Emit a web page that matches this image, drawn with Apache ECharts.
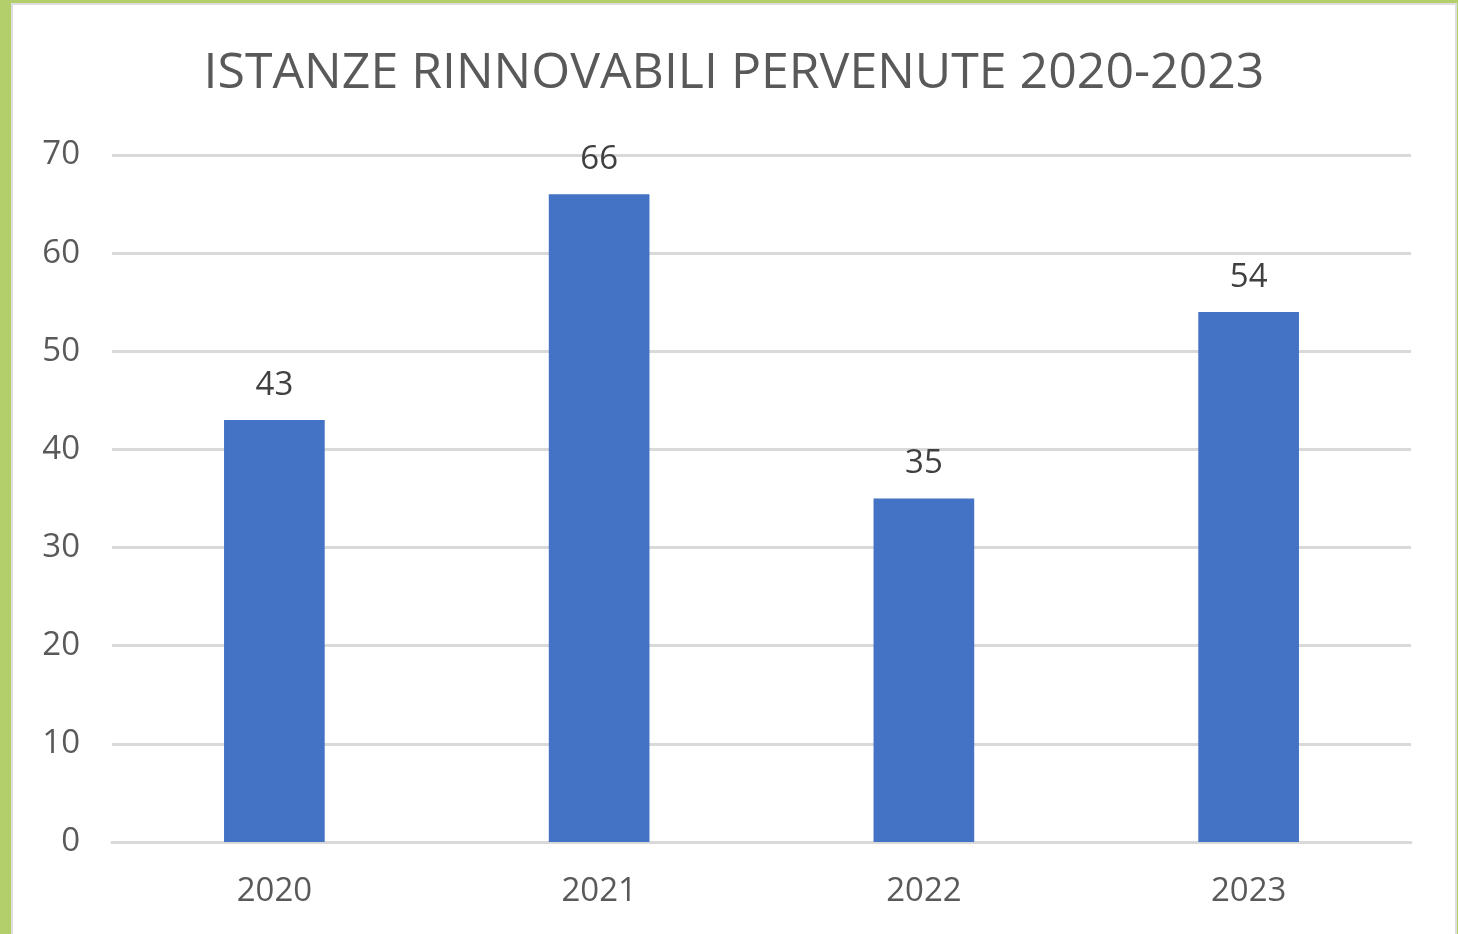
<!DOCTYPE html>
<html>
<head>
<meta charset="utf-8">
<script src="https://cdn.jsdelivr.net/npm/echarts@6/dist/echarts.min.js"></script>
<style>
	html, body {
		margin: 0;
		padding: 0;
		width: 1458px;
		height: 934px;
		overflow: hidden;
		background: #b3cf6c;
	}
	.frame {
		position: absolute;
		left: 11px;
		top: 3px;
		width: 1442px;
		height: 940px;
		background: #fff;
		border: 2px solid #dedede;
	}
	#chart {
		width: 100%;
		height: 100%;
	}
</style>
</head>
<body>
<div class="frame"><div id="chart"></div></div>
<script>
	var titleText = 'ISTANZE RINNOVABILI PERVENUTE 2020-2023';
	var years = ['2020', '2021', '2022', '2023'];
	var istanze = [43, 66, 35, 54];

	var chart = echarts.init(document.getElementById('chart'));
	chart.setOption({
		animation: false,
		title: {
			text: titleText,
			left: 'center',
			top: 39,
			textStyle: {
				fontFamily: 'Open Sans',
				fontSize: 50,
				fontWeight: 'normal',
				color: '#595959'
			}
		},
		//grid position matched to the picture (frame offset 13,5)
		grid: {
			left: 99,
			right: 44,
			top: 150,
			bottom: 103
		},
		xAxis: {
			type: 'category',
			data: years,
			axisLine: { lineStyle: { color: '#d9d9d9', width: 3 } },
			axisTick: { show: false },
			axisLabel: {
				fontFamily: 'Open Sans',
				fontSize: 33,
				color: '#595959',
				margin: 33
			}
		},
		yAxis: {
			type: 'value',
			min: 0,
			max: 70,
			interval: 10,
			axisLine: { show: false },
			axisTick: { show: false },
			splitLine: { lineStyle: { color: '#d9d9d9', width: 3 } },
			axisLabel: {
				fontFamily: 'Open Sans',
				fontSize: 33,
				color: '#595959',
				margin: 32,
				padding: [4, 0, 0, 0]
			}
		},
		series: [{
			type: 'bar',
			data: istanze,
			barWidth: '31%',
			itemStyle: { color: '#4472c4' },
			label: {
				show: true,
				position: 'top',
				distance: 18,
				fontFamily: 'Open Sans',
				fontSize: 33,
				color: '#404040'
			}
		}]
	});
</script>
</body>
</html>
